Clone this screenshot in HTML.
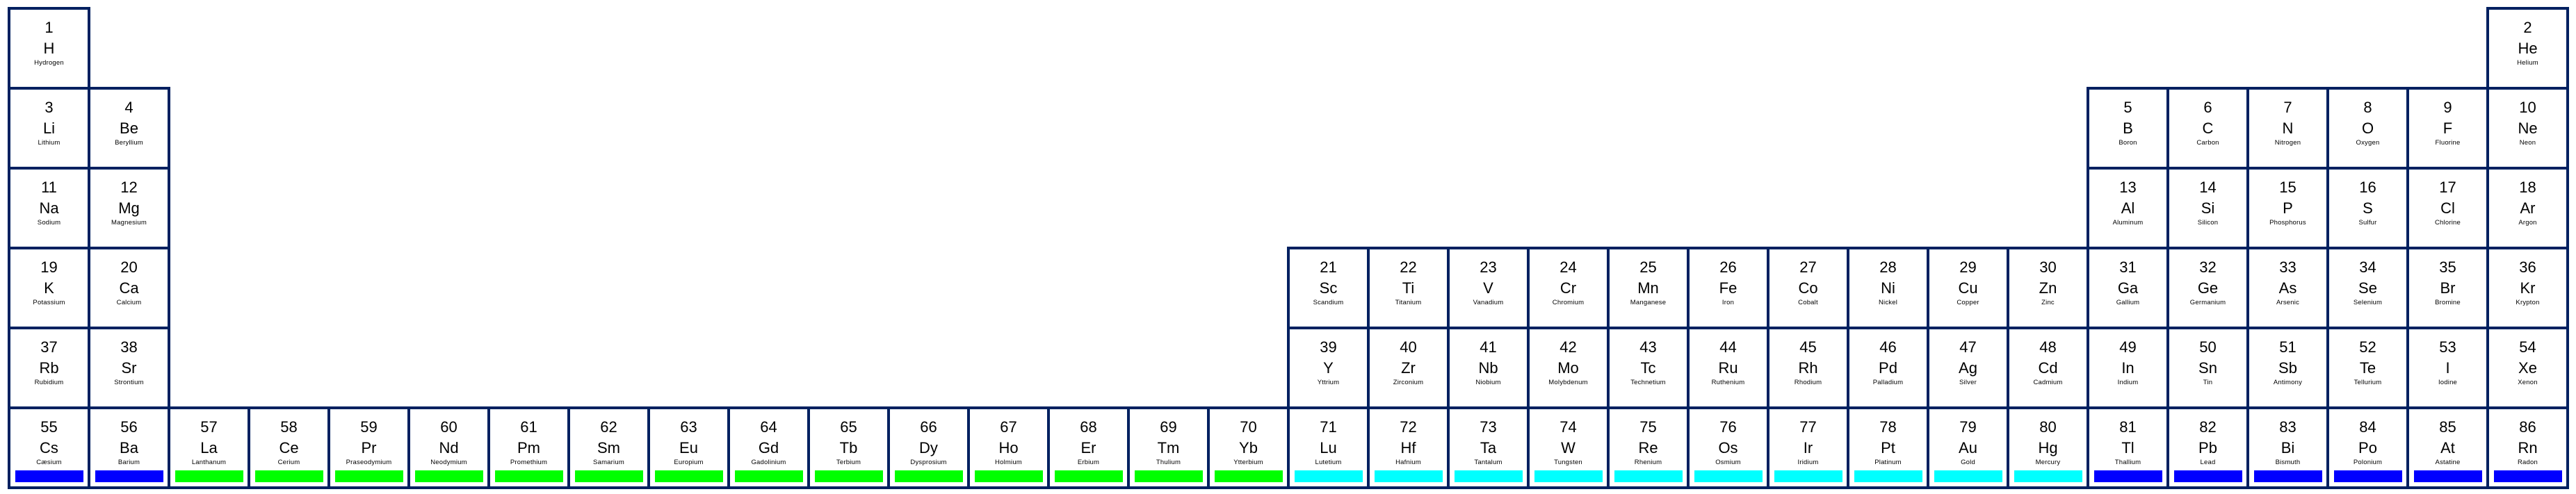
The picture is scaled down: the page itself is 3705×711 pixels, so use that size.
<!DOCTYPE html>
<html><head><meta charset="utf-8"><style>
html,body{margin:0;padding:0;background:#fff;width:3705px;height:711px;overflow:hidden;position:relative;font-family:"Liberation Sans",sans-serif;color:#000}
.c{position:absolute;width:119px;height:119px;box-sizing:border-box;border:4px solid #002060;background:#fff}
.c b,.c i,.c s{position:absolute;left:-4px;width:119px;text-align:center;font-weight:normal;font-style:normal;text-decoration:none;white-space:nowrap}
.c b{top:14px;font-size:22px;line-height:24px}
.c i{top:44px;font-size:22px;line-height:24px}
.c s{top:71px;font-size:9.5px;line-height:11px;letter-spacing:0.2px}
.c u{position:absolute;left:7px;top:88px;width:98px;height:17px}
.g u{background:#00ff00}.y u{background:#00ffff}.k u{background:#0000ff}
</style></head><body>
<div class="c" style="left:11px;top:10px"><b>1</b><i>H</i><s>Hydrogen</s></div>
<div class="c" style="left:3576px;top:10px"><b>2</b><i>He</i><s>Helium</s></div>

<div class="c" style="left:11px;top:125px"><b>3</b><i>Li</i><s>Lithium</s></div>
<div class="c" style="left:126px;top:125px"><b>4</b><i>Be</i><s>Beryllium</s></div>
<div class="c" style="left:3001px;top:125px"><b>5</b><i>B</i><s>Boron</s></div>
<div class="c" style="left:3116px;top:125px"><b>6</b><i>C</i><s>Carbon</s></div>
<div class="c" style="left:3231px;top:125px"><b>7</b><i>N</i><s>Nitrogen</s></div>
<div class="c" style="left:3346px;top:125px"><b>8</b><i>O</i><s>Oxygen</s></div>
<div class="c" style="left:3461px;top:125px"><b>9</b><i>F</i><s>Fluorine</s></div>
<div class="c" style="left:3576px;top:125px"><b>10</b><i>Ne</i><s>Neon</s></div>

<div class="c" style="left:11px;top:240px"><b>11</b><i>Na</i><s>Sodium</s></div>
<div class="c" style="left:126px;top:240px"><b>12</b><i>Mg</i><s>Magnesium</s></div>
<div class="c" style="left:3001px;top:240px"><b>13</b><i>Al</i><s>Aluminum</s></div>
<div class="c" style="left:3116px;top:240px"><b>14</b><i>Si</i><s>Silicon</s></div>
<div class="c" style="left:3231px;top:240px"><b>15</b><i>P</i><s>Phosphorus</s></div>
<div class="c" style="left:3346px;top:240px"><b>16</b><i>S</i><s>Sulfur</s></div>
<div class="c" style="left:3461px;top:240px"><b>17</b><i>Cl</i><s>Chlorine</s></div>
<div class="c" style="left:3576px;top:240px"><b>18</b><i>Ar</i><s>Argon</s></div>

<div class="c" style="left:11px;top:355px"><b>19</b><i>K</i><s>Potassium</s></div>
<div class="c" style="left:126px;top:355px"><b>20</b><i>Ca</i><s>Calcium</s></div>
<div class="c" style="left:1851px;top:355px"><b>21</b><i>Sc</i><s>Scandium</s></div>
<div class="c" style="left:1966px;top:355px"><b>22</b><i>Ti</i><s>Titanium</s></div>
<div class="c" style="left:2081px;top:355px"><b>23</b><i>V</i><s>Vanadium</s></div>
<div class="c" style="left:2196px;top:355px"><b>24</b><i>Cr</i><s>Chromium</s></div>
<div class="c" style="left:2311px;top:355px"><b>25</b><i>Mn</i><s>Manganese</s></div>
<div class="c" style="left:2426px;top:355px"><b>26</b><i>Fe</i><s>Iron</s></div>
<div class="c" style="left:2541px;top:355px"><b>27</b><i>Co</i><s>Cobalt</s></div>
<div class="c" style="left:2656px;top:355px"><b>28</b><i>Ni</i><s>Nickel</s></div>
<div class="c" style="left:2771px;top:355px"><b>29</b><i>Cu</i><s>Copper</s></div>
<div class="c" style="left:2886px;top:355px"><b>30</b><i>Zn</i><s>Zinc</s></div>
<div class="c" style="left:3001px;top:355px"><b>31</b><i>Ga</i><s>Gallium</s></div>
<div class="c" style="left:3116px;top:355px"><b>32</b><i>Ge</i><s>Germanium</s></div>
<div class="c" style="left:3231px;top:355px"><b>33</b><i>As</i><s>Arsenic</s></div>
<div class="c" style="left:3346px;top:355px"><b>34</b><i>Se</i><s>Selenium</s></div>
<div class="c" style="left:3461px;top:355px"><b>35</b><i>Br</i><s>Bromine</s></div>
<div class="c" style="left:3576px;top:355px"><b>36</b><i>Kr</i><s>Krypton</s></div>

<div class="c" style="left:11px;top:470px"><b>37</b><i>Rb</i><s>Rubidium</s></div>
<div class="c" style="left:126px;top:470px"><b>38</b><i>Sr</i><s>Strontium</s></div>
<div class="c" style="left:1851px;top:470px"><b>39</b><i>Y</i><s>Yttrium</s></div>
<div class="c" style="left:1966px;top:470px"><b>40</b><i>Zr</i><s>Zirconium</s></div>
<div class="c" style="left:2081px;top:470px"><b>41</b><i>Nb</i><s>Niobium</s></div>
<div class="c" style="left:2196px;top:470px"><b>42</b><i>Mo</i><s>Molybdenum</s></div>
<div class="c" style="left:2311px;top:470px"><b>43</b><i>Tc</i><s>Technetium</s></div>
<div class="c" style="left:2426px;top:470px"><b>44</b><i>Ru</i><s>Ruthenium</s></div>
<div class="c" style="left:2541px;top:470px"><b>45</b><i>Rh</i><s>Rhodium</s></div>
<div class="c" style="left:2656px;top:470px"><b>46</b><i>Pd</i><s>Palladium</s></div>
<div class="c" style="left:2771px;top:470px"><b>47</b><i>Ag</i><s>Silver</s></div>
<div class="c" style="left:2886px;top:470px"><b>48</b><i>Cd</i><s>Cadmium</s></div>
<div class="c" style="left:3001px;top:470px"><b>49</b><i>In</i><s>Indium</s></div>
<div class="c" style="left:3116px;top:470px"><b>50</b><i>Sn</i><s>Tin</s></div>
<div class="c" style="left:3231px;top:470px"><b>51</b><i>Sb</i><s>Antimony</s></div>
<div class="c" style="left:3346px;top:470px"><b>52</b><i>Te</i><s>Tellurium</s></div>
<div class="c" style="left:3461px;top:470px"><b>53</b><i>I</i><s>Iodine</s></div>
<div class="c" style="left:3576px;top:470px"><b>54</b><i>Xe</i><s>Xenon</s></div>

<div class="c k" style="left:11px;top:585px"><b>55</b><i>Cs</i><s>Cæsium</s><u></u></div>
<div class="c k" style="left:126px;top:585px"><b>56</b><i>Ba</i><s>Barium</s><u></u></div>
<div class="c g" style="left:241px;top:585px"><b>57</b><i>La</i><s>Lanthanum</s><u></u></div>
<div class="c g" style="left:356px;top:585px"><b>58</b><i>Ce</i><s>Cerium</s><u></u></div>
<div class="c g" style="left:471px;top:585px"><b>59</b><i>Pr</i><s>Praseodymium</s><u></u></div>
<div class="c g" style="left:586px;top:585px"><b>60</b><i>Nd</i><s>Neodymium</s><u></u></div>
<div class="c g" style="left:701px;top:585px"><b>61</b><i>Pm</i><s>Promethium</s><u></u></div>
<div class="c g" style="left:816px;top:585px"><b>62</b><i>Sm</i><s>Samarium</s><u></u></div>
<div class="c g" style="left:931px;top:585px"><b>63</b><i>Eu</i><s>Europium</s><u></u></div>
<div class="c g" style="left:1046px;top:585px"><b>64</b><i>Gd</i><s>Gadolinium</s><u></u></div>
<div class="c g" style="left:1161px;top:585px"><b>65</b><i>Tb</i><s>Terbium</s><u></u></div>
<div class="c g" style="left:1276px;top:585px"><b>66</b><i>Dy</i><s>Dysprosium</s><u></u></div>
<div class="c g" style="left:1391px;top:585px"><b>67</b><i>Ho</i><s>Holmium</s><u></u></div>
<div class="c g" style="left:1506px;top:585px"><b>68</b><i>Er</i><s>Erbium</s><u></u></div>
<div class="c g" style="left:1621px;top:585px"><b>69</b><i>Tm</i><s>Thulium</s><u></u></div>
<div class="c g" style="left:1736px;top:585px"><b>70</b><i>Yb</i><s>Ytterbium</s><u></u></div>
<div class="c y" style="left:1851px;top:585px"><b>71</b><i>Lu</i><s>Lutetium</s><u></u></div>
<div class="c y" style="left:1966px;top:585px"><b>72</b><i>Hf</i><s>Hafnium</s><u></u></div>
<div class="c y" style="left:2081px;top:585px"><b>73</b><i>Ta</i><s>Tantalum</s><u></u></div>
<div class="c y" style="left:2196px;top:585px"><b>74</b><i>W</i><s>Tungsten</s><u></u></div>
<div class="c y" style="left:2311px;top:585px"><b>75</b><i>Re</i><s>Rhenium</s><u></u></div>
<div class="c y" style="left:2426px;top:585px"><b>76</b><i>Os</i><s>Osmium</s><u></u></div>
<div class="c y" style="left:2541px;top:585px"><b>77</b><i>Ir</i><s>Iridium</s><u></u></div>
<div class="c y" style="left:2656px;top:585px"><b>78</b><i>Pt</i><s>Platinum</s><u></u></div>
<div class="c y" style="left:2771px;top:585px"><b>79</b><i>Au</i><s>Gold</s><u></u></div>
<div class="c y" style="left:2886px;top:585px"><b>80</b><i>Hg</i><s>Mercury</s><u></u></div>
<div class="c k" style="left:3001px;top:585px"><b>81</b><i>Tl</i><s>Thallium</s><u></u></div>
<div class="c k" style="left:3116px;top:585px"><b>82</b><i>Pb</i><s>Lead</s><u></u></div>
<div class="c k" style="left:3231px;top:585px"><b>83</b><i>Bi</i><s>Bismuth</s><u></u></div>
<div class="c k" style="left:3346px;top:585px"><b>84</b><i>Po</i><s>Polonium</s><u></u></div>
<div class="c k" style="left:3461px;top:585px"><b>85</b><i>At</i><s>Astatine</s><u></u></div>
<div class="c k" style="left:3576px;top:585px"><b>86</b><i>Rn</i><s>Radon</s><u></u></div>
</body></html>
